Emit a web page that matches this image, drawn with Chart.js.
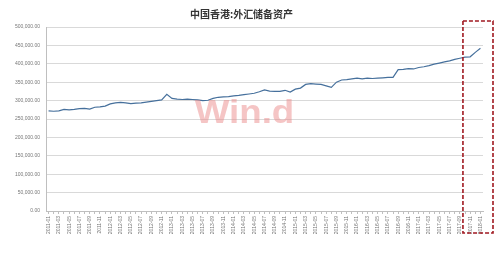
<!DOCTYPE html>
<html>
<head>
<meta charset="utf-8">
<script src="https://cdn.jsdelivr.net/npm/chart.js@4"></script>
<style>
  html, body { margin: 0; padding: 0; background: #fff; }
  #wrap { width: 500px; height: 253px; }
</style>
</head>
<body>
<div id="wrap"><canvas id="grafico"></canvas></div>
<script>
// meses 2011-01 .. 2018-01
const meses = [];
for (let a = 2011; a <= 2018; a++) {
    for (let m = 1; m <= 12; m++) {
        if (a === 2018 && m > 1) break;
        meses.push(a + '-' + (m < 10 ? '0' + m : m));
    }
}

// reservas en millones de USD
const reservas2011 = [272, 271, 272, 276, 275, 276, 278, 279, 277, 282, 283, 285];
const reservas2012 = [291, 294, 295, 294, 292, 293, 294, 296, 298, 300, 302, 317];
const reservas2013 = [306, 304, 303, 304, 303, 302, 300, 301, 306, 309, 310, 311];
const reservas2014 = [313, 314, 316, 318, 320, 324, 329, 326, 325, 325, 328, 323];
const reservas2015 = [331, 334, 344, 346, 345, 344, 340, 336, 350, 356, 357, 359];
const reservas2016 = [361, 359, 361, 360, 361, 362, 363, 363, 384, 385, 387, 386];
const reservas2017 = [390, 392, 395, 399, 402, 405, 408, 412, 415, 418, 419, 431];
const reservas2018 = [442];

const valores = [].concat(reservas2011, reservas2012, reservas2013, reservas2014,
    reservas2015, reservas2016, reservas2017, reservas2018).map(v => v * 1000);

const titulo = '中国香港:外汇储备资产';
const marcaAgua = 'Win.d';
// indice donde empieza el recuadro rojo (entre 2017-09 y 2017-10)
const inicioRecuadro = 80.6;

const extras = {
    id: 'extras',
    afterDatasetsDraw(chart) {
        const ctx = chart.ctx;
        const x = chart.scales.x;
        const y = chart.scales.y;
        const area = chart.chartArea;

        // marca de agua
        ctx.save();
        ctx.translate((area.left + area.right) / 2 - 20, (area.top + area.bottom) / 2 - 5);
        ctx.scale(1.08, 1);
        ctx.font = 'bold 34px "Liberation Sans", Arial, sans-serif';
        ctx.fillStyle = 'rgba(236, 140, 140, 0.5)';
        ctx.textAlign = 'center';
        ctx.textBaseline = 'middle';
        ctx.fillText(marcaAgua, 0, 0);
        ctx.restore();

        // recuadro rojo discontinuo
        const izq = x.getPixelForValue(inicioRecuadro);
        const der = area.right + 10;
        const arriba = y.getPixelForValue(500000) - 6;
        const abajo = chart.height - 20;
        ctx.save();
        ctx.strokeStyle = '#a01820';
        ctx.lineWidth = 1.6;
        ctx.setLineDash([4, 2]);
        ctx.strokeRect(izq, arriba, der - izq, abajo - arriba);
        ctx.restore();
    }
};

new Chart(document.getElementById('grafico'), {
    type: 'line',
    data: {
        labels: meses,
        datasets: [{
            label: titulo,
            data: valores,
            borderColor: '#46709c',
            borderWidth: 1.2,
            pointRadius: 0,
            tension: 0,
            fill: false
        }]
    },
    options: {
        responsive: true,
        maintainAspectRatio: false,
        animation: false,
        layout: { padding: { top: 0, right: 17, bottom: 14, left: 0 } },
        plugins: {
            legend: { display: false },
            tooltip: { enabled: false },
            title: {
                display: true,
                text: titulo,
                color: '#333',
                font: { family: '"Noto Sans CJK SC", sans-serif', size: 10, weight: 'bold' },
                padding: { top: 8, bottom: 7 }
            }
        },
        scales: {
            x: {
                offset: true,
                grid: {
                    drawOnChartArea: false,
                    drawTicks: true,
                    tickLength: 3,
                    color: '#bfbfbf'
                },
                border: { color: '#bfbfbf' },
                ticks: {
                    autoSkip: false,
                    maxRotation: 90,
                    minRotation: 90,
                    padding: 2,
                    color: '#777',
                    font: { family: '"Liberation Sans", Arial, sans-serif', size: 5 },
                    callback: function (v, i) {
                        return i % 2 === 0 ? this.getLabelForValue(v) : '';
                    }
                },
                afterFit: s => { s.height = 28; }
            },
            y: {
                min: 0,
                max: 500000,
                grid: { color: '#d9d9d9', drawTicks: false },
                border: { color: '#bfbfbf' },
                ticks: {
                    stepSize: 50000,
                    padding: 6,
                    color: '#777',
                    font: { family: '"Liberation Sans", Arial, sans-serif', size: 5 },
                    callback: v => v.toLocaleString('en-US', { minimumFractionDigits: 2, maximumFractionDigits: 2 })
                },
                afterFit: s => { s.width = 46; }
            }
        }
    },
    plugins: [extras]
});
</script>
</body>
</html>
